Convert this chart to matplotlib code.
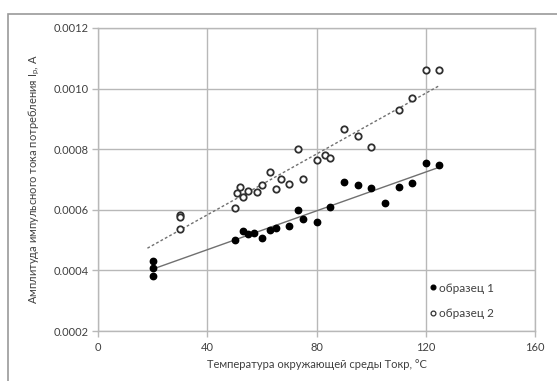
import numpy as np
import matplotlib
matplotlib.use("Agg")
import matplotlib.pyplot as plt
from matplotlib.patches import Rectangle

plt.rcParams['font.family'] = ['Lato', 'DejaVu Sans']

# образец 1 (filled)
x1 = [20, 20, 20, 50, 53, 55, 57, 60, 63, 65, 70, 73, 75, 80, 85, 90, 95, 100, 105, 110, 115, 120, 125]
y1 = [0.000432, 0.000408, 0.000383, 0.000499, 0.000529, 0.000521, 0.000525, 0.000506, 0.000534,
      0.000541, 0.000546, 0.000598, 0.000568, 0.000560, 0.000608, 0.000692, 0.000681, 0.000672,
      0.000624, 0.000675, 0.000690, 0.000753, 0.000748]

# образец 2 (open)
x2 = [30, 30, 30, 50, 51, 52, 53, 55, 58, 60, 63, 65, 67, 70, 73, 75, 80, 83, 85, 90, 95, 100,
      110, 115, 120, 125]
y2 = [0.000582, 0.000575, 0.000538, 0.000606, 0.000654, 0.000675, 0.000642, 0.000662, 0.000658,
      0.000681, 0.000724, 0.000669, 0.000701, 0.000685, 0.000802, 0.000701, 0.000765, 0.000782,
      0.000771, 0.000868, 0.000843, 0.000808, 0.000928, 0.000969, 0.001061, 0.001063]

trend1_x = [20, 125]
trend2_x = [18, 125]

xticks = [0, 40, 80, 120, 160]
yticks = [0.0002, 0.0004, 0.0006, 0.0008, 0.0010, 0.0012]
ytick_labels = ['0.0002', '0.0004', '0.0006', '0.0008', '0.0010', '0.0012']

series_labels = ['образец 1', 'образец 2']
xlabel = 'Температура окружающей среды Токр, °С'
ylabel = 'Амплитуда импульсного тока потребления I$_\\mathregular{р}$, А'

W, H = 557, 381
fig = plt.figure(figsize=(W / 100, H / 100), dpi=100)
ax = fig.add_axes([98.3 / W, 1 - 331 / H, (535 - 98.3) / W, (331 - 28) / H])

text_col = '#404040'
grid_col = '#b8b8b8'

# chart border (cropped on right/bottom)
fig.patches.append(Rectangle((8 / W, -0.1), 1.2, 1 - 14 / H + 0.1, transform=fig.transFigure,
                             fill=False, edgecolor='#9a9a9a', linewidth=1.2))

# trend lines
c1 = np.polyfit(x1, y1, 1)
c2 = np.polyfit(x2, y2, 1)
tx1 = np.array(trend1_x, dtype=float)
tx2 = np.array(trend2_x, dtype=float)
ax.plot(tx1, np.polyval(c1, tx1), color='#707070', linewidth=1.0, zorder=2)
ax.plot(tx2, np.polyval(c2, tx2), color='#707070', linewidth=1.0, linestyle=(0, (2, 1.6)), zorder=2)

ax.plot(x1, y1, linestyle='none', marker='o', markersize=4.6, markerfacecolor='black',
        markeredgecolor='black', label=series_labels[0], zorder=3)
ax.plot(x2, y2, linestyle='none', marker='o', markersize=4.6, markerfacecolor='white',
        markeredgecolor='#303030', markeredgewidth=1.3, label=series_labels[1], zorder=3)

ax.set_xlim(0, 160)
ax.set_ylim(0.0002, 0.0012)
ax.set_xticks(xticks)
ax.set_xticklabels([str(t) for t in xticks])
ax.set_yticks(yticks)
ax.set_yticklabels(ytick_labels)

ax.grid(True, color=grid_col, linewidth=1.0)
ax.set_axisbelow(True)
for s in ax.spines.values():
    s.set_color(grid_col)
    s.set_linewidth(1.0)

ax.tick_params(axis='both', colors=grid_col, labelcolor=text_col, labelsize=8, length=4, width=1.0)
ax.tick_params(axis='x', pad=4)
ax.tick_params(axis='y', pad=3)

ax.set_xlabel(xlabel, color=text_col, fontsize=8, labelpad=4)
ax.set_ylabel(ylabel, color=text_col, fontsize=8, labelpad=8)

leg = ax.legend(loc='center left', bbox_to_anchor=(0.755, 0.099), frameon=False, fontsize=8.5,
                handletextpad=0.1, handlelength=0.8, labelspacing=1.25, borderaxespad=0.0,
                borderpad=0.0, markerscale=0.75)
for t in leg.get_texts():
    t.set_color(text_col)
for h in leg.legend_handles:
    h.set_markeredgewidth(0.9)

fig.savefig('out.png', dpi=100)
